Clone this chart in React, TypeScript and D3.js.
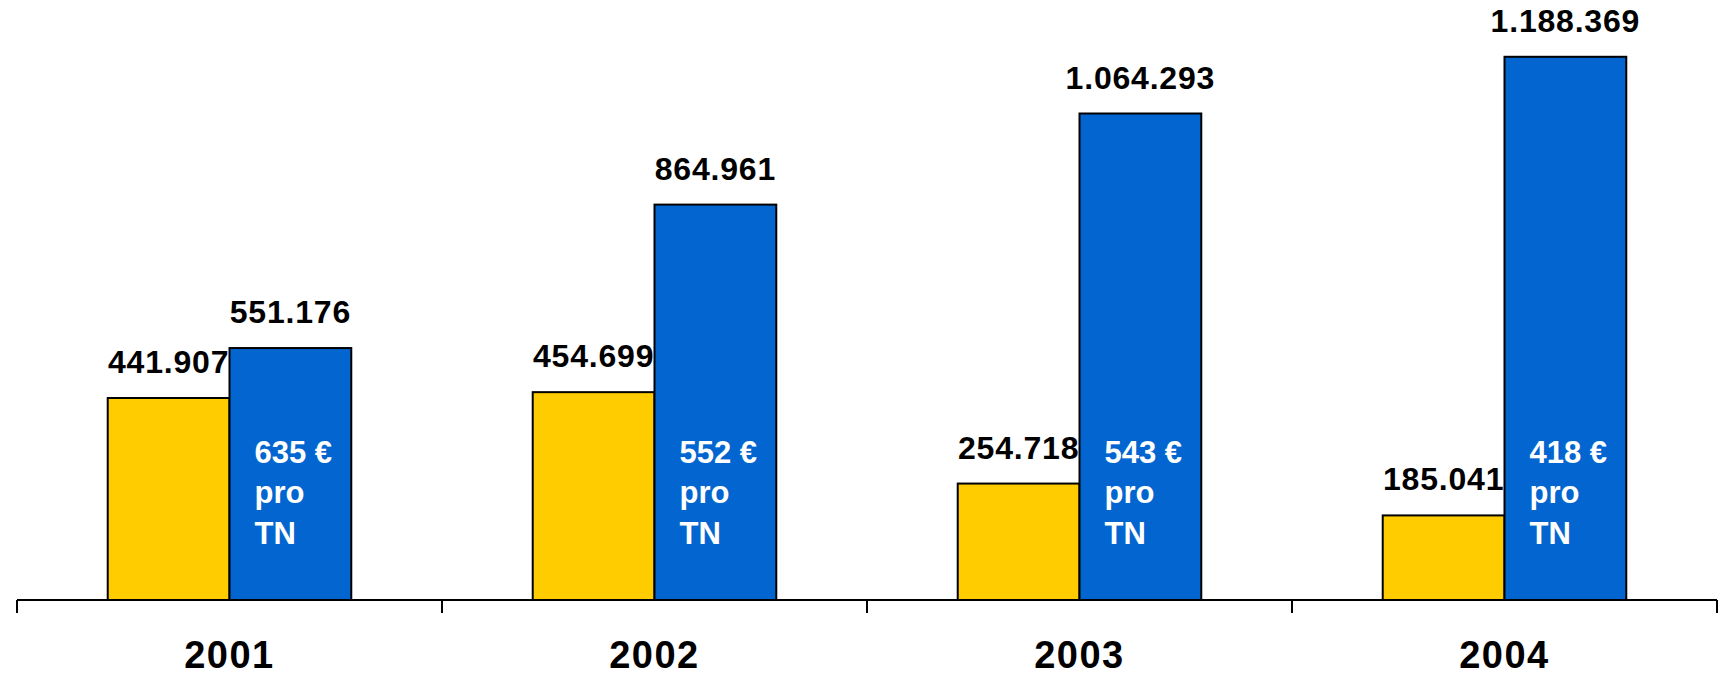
import React from "react";
import * as d3 from "d3";

const years = ["2001", "2002", "2003", "2004"];
const seriesKeys = ["gelb", "blau"];
const yellowValues = [441907, 454699, 254718, 185041];
const blueValues = [551176, 864961, 1064293, 1188369];
const perTN = [635, 552, 543, 418];

const W = 1726;
const H = 677;
const YELLOW = "#FFCC00";
const BLUE = "#0366D0";
const FONT = "'Liberation Sans', Arial, sans-serif";

const de = d3.formatLocale({ decimal: ",", thousands: ".", grouping: [3], currency: ["", " €"] });
const fmt = de.format(",");

export default function App() {
  const axisY = 600;
  const x0 = d3.scaleBand<string>().domain(years).range([17, 1717]).paddingInner(0).paddingOuter(0);
  const x1 = d3
    .scaleBand<string>()
    .domain(seriesKeys)
    .range([0, x0.bandwidth()])
    .paddingInner(0)
    .paddingOuter(0.745);
  const y = d3.scaleLinear().domain([0, 1312600]).range([axisY, 0]);

  const tickXs = [...years.map((yr) => x0(yr)!), x0(years[years.length - 1])! + x0.bandwidth()];

  return (
    <svg
      width={W}
      height={H}
      style={{ position: "absolute", left: 0, top: 0, display: "block", background: "#fff" }}
      fontFamily={FONT}
    >
      {years.map((yr, i) => {
        const gx = x0(yr)!;
        const vals = [yellowValues[i], blueValues[i]];
        const cols = [YELLOW, BLUE];
        const tx = x1("blau")! + 25;
        return (
          <g key={yr} transform={`translate(${gx},0)`}>
            {seriesKeys.map((k, j) => {
              const bx = x1(k)!;
              const bw = x1.bandwidth();
              const top = y(vals[j]);
              return (
                <g key={k}>
                  <rect
                    x={bx}
                    y={top}
                    width={bw}
                    height={axisY - top}
                    fill={cols[j]}
                    stroke="#000"
                    strokeWidth={2}
                  />
                  <text
                    x={bx + bw / 2}
                    y={top - 25}
                    textAnchor="middle"
                    fontSize={32}
                    fontWeight="bold"
                    letterSpacing={0.8}
                    fill="#000"
                  >
                    {fmt(vals[j])}
                  </text>
                </g>
              );
            })}
            <text x={tx} y={463} fontSize={31} fontWeight="bold" fill="#fff">
              <tspan x={tx} y={463}>{`${perTN[i]} €`}</tspan>
              <tspan x={tx} y={503}>pro</tspan>
              <tspan x={tx} y={544}>TN</tspan>
            </text>
            <text
              x={x0.bandwidth() / 2}
              y={668}
              textAnchor="middle"
              fontSize={38}
              fontWeight="bold"
              letterSpacing={1.5}
              fill="#000"
            >
              {yr}
            </text>
          </g>
        );
      })}
      <line x1={17} x2={1717} y1={axisY} y2={axisY} stroke="#000" strokeWidth={2} />
      {tickXs.map((tx, i) => (
        <line key={i} x1={tx} x2={tx} y1={axisY} y2={axisY + 13} stroke="#000" strokeWidth={2} />
      ))}
    </svg>
  );
}
